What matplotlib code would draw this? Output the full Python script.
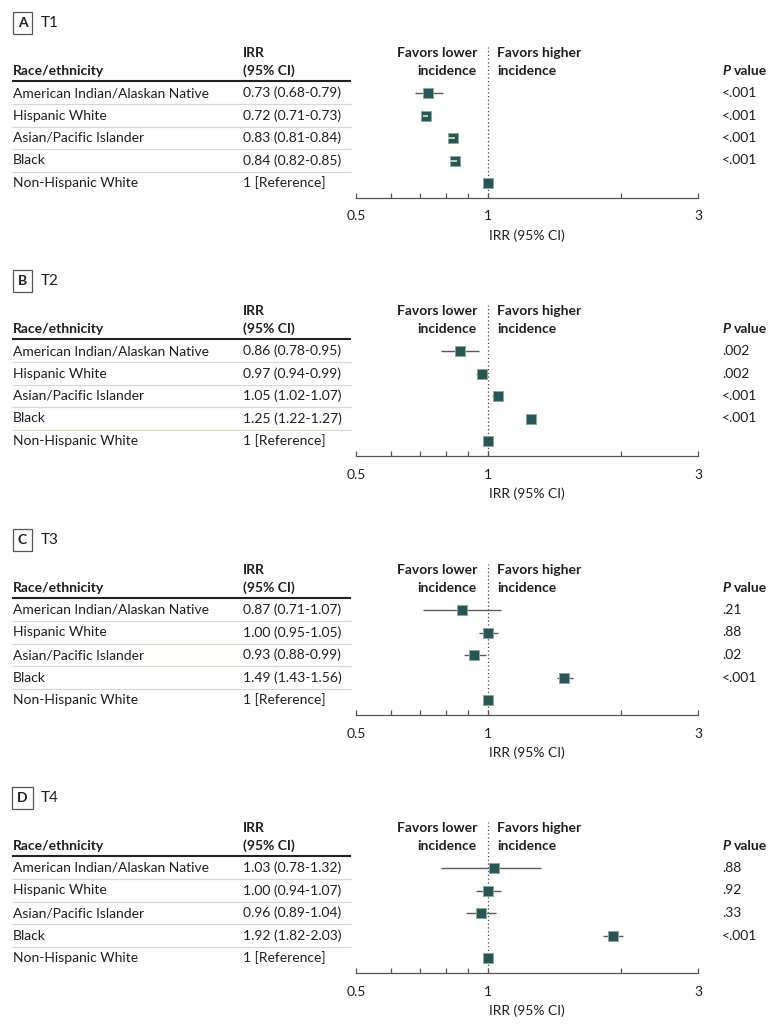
import numpy as np
import matplotlib
matplotlib.use("Agg")
import matplotlib.pyplot as plt
from matplotlib.ticker import NullFormatter

plt.rcParams['font.family'] = ['Lato', 'DejaVu Sans']

# data
groups = ["American Indian/Alaskan Native", "Hispanic White", "Asian/Pacific Islander",
          "Black", "Non-Hispanic White"]
panel_letters = ["A", "B", "C", "D"]
periods = ["T1", "T2", "T3", "T4"]

irr_t1 = [0.73, 0.72, 0.83, 0.84, 1]
lo_t1 = [0.68, 0.71, 0.81, 0.82, 1]
hi_t1 = [0.79, 0.73, 0.84, 0.85, 1]
p_t1 = ["<.001", "<.001", "<.001", "<.001", ""]

irr_t2 = [0.86, 0.97, 1.05, 1.25, 1]
lo_t2 = [0.78, 0.94, 1.02, 1.22, 1]
hi_t2 = [0.95, 0.99, 1.07, 1.27, 1]
p_t2 = [".002", ".002", "<.001", "<.001", ""]

irr_t3 = [0.87, 1.00, 0.93, 1.49, 1]
lo_t3 = [0.71, 0.95, 0.88, 1.43, 1]
hi_t3 = [1.07, 1.05, 0.99, 1.56, 1]
p_t3 = [".21", ".88", ".02", "<.001", ""]

irr_t4 = [1.03, 1.00, 0.96, 1.92, 1]
lo_t4 = [0.78, 0.94, 0.89, 1.82, 1]
hi_t4 = [1.32, 1.07, 1.04, 2.03, 1]
p_t4 = [".88", ".92", ".33", "<.001", ""]

xticks_major = [0.5, 1, 3]
xticks_minor = [0.6, 0.7, 0.8, 0.9, 2]

panels = [
    (irr_t1, lo_t1, hi_t1, p_t1),
    (irr_t2, lo_t2, hi_t2, p_t2),
    (irr_t3, lo_t3, hi_t3, p_t3),
    (irr_t4, lo_t4, hi_t4, p_t4),
]

W, H = 783, 1029
BOX = '#275752'
TXT = '#1e1e1e'
FS = 10

fig = plt.figure(figsize=(W / 100, H / 100), dpi=100)

# layout in pixels (from top) for panel A, others are shifted down
offsets = [0, 258, 517, 775]
row0, row_step = 93, 22.5
ax_top, ax_bot = 47, 198
ax_left, ax_right = 356, 698


def to_row(ypx):
    return (ypx - row0) / row_step


for k, (irr, lo, hi, pv) in enumerate(panels):
    off = offsets[k]
    bottom = 1 - (ax_bot + off) / H
    height = (ax_bot - ax_top) / H
    ylim = (to_row(ax_bot), to_row(ax_top))

    # table axes across the whole width
    tab = fig.add_axes([0, bottom, 1, height])
    tab.set_xlim(0, W)
    tab.set_ylim(*ylim)
    tab.axis('off')

    fax = fig.add_axes([ax_left / W, bottom, (ax_right - ax_left) / W, height])
    fax.patch.set_alpha(0)

    # panel label
    tab.text(22.5, to_row(23), panel_letters[k], ha='center', va='center',
             fontsize=FS, fontweight='bold', color=TXT, clip_on=False,
             bbox=dict(boxstyle='square,pad=0.35', fc='white', ec='#555555', lw=0.9))
    tab.text(41, to_row(23), periods[k], ha='left', va='center', fontsize=FS + 1,
             color=TXT, clip_on=False)

    # header
    tab.text(13, to_row(71), "Race/ethnicity", ha='left', va='center', fontsize=FS,
             fontweight='bold', color=TXT)
    tab.text(243, to_row(53), "IRR", ha='left', va='center', fontsize=FS,
             fontweight='bold', color=TXT)
    tab.text(243, to_row(71), "(95% CI)", ha='left', va='center', fontsize=FS,
             fontweight='bold', color=TXT)
    tab.hlines(to_row(81), 12, 351, color='#222222', lw=1.5)
    tab.text(477, to_row(53), "Favors lower", ha='right', va='center', fontsize=FS,
             fontweight='bold', color=TXT)
    tab.text(477, to_row(71), "incidence", ha='right', va='center', fontsize=FS,
             fontweight='bold', color=TXT)
    tab.text(497, to_row(53), "Favors higher", ha='left', va='center', fontsize=FS,
             fontweight='bold', color=TXT)
    tab.text(497, to_row(71), "incidence", ha='left', va='center', fontsize=FS,
             fontweight='bold', color=TXT)
    tab.text(722, to_row(71), "P", ha='left', va='center', fontsize=FS,
             fontweight='bold', fontstyle='italic', color=TXT)
    tab.text(734, to_row(71), "value", ha='left', va='center', fontsize=FS,
             fontweight='bold', color=TXT)

    rows = np.arange(len(groups))
    tab.hlines(rows[:-1] + 0.5, 12, 351, color='#dcd8cd', lw=0.9)
    for i, g in enumerate(groups):
        tab.text(13, i, g, ha='left', va='center', fontsize=FS, color=TXT)
        if i == len(groups) - 1:
            est = "1 [Reference]"
        else:
            est = f"{irr[i]:.2f} ({lo[i]:.2f}-{hi[i]:.2f})"
        tab.text(243, i, est, ha='left', va='center', fontsize=FS, color=TXT)
        tab.text(722, i, pv[i], ha='left', va='center', fontsize=FS, color=TXT)

    # forest plot
    fax.set_xscale('log')
    fax.set_xlim(0.5, 3)
    fax.set_ylim(*ylim)
    fax.axvline(1, color='#444444', ls=(0, (1, 2)), lw=0.9, zorder=1)
    fax.hlines(rows, lo, hi, color='#5a5a5a', lw=1.0, zorder=2)
    fax.plot(irr, rows, ls='none', marker='s', ms=7.2, mfc=BOX, mec='#86aaa3',
             mew=0.7, zorder=3)
    # narrow intervals hidden under the square are shown as a pale dash
    for i in rows:
        if np.log(hi[i] / lo[i]) / 2 < 0.019 and hi[i] != lo[i]:
            fax.hlines(i, lo[i], hi[i], color='#c8dad6', lw=1.3, zorder=4)

    for s in ['top', 'left', 'right']:
        fax.spines[s].set_visible(False)
    fax.spines['bottom'].set_color('#555555')
    fax.spines['bottom'].set_linewidth(0.9)
    fax.set_yticks([])
    fax.set_xticks(xticks_major)
    fax.set_xticklabels([f"{t:g}" for t in xticks_major])
    fax.set_xticks(xticks_minor, minor=True)
    fax.xaxis.set_minor_formatter(NullFormatter())
    fax.tick_params(axis='x', which='both', direction='in', length=3.8, width=0.9,
                    color='#555555', labelsize=FS, labelcolor=TXT, pad=9)
    fax.set_xlabel("IRR (95% CI)", fontsize=FS, color=TXT, labelpad=5)

fig.savefig("out.png", dpi=100)
